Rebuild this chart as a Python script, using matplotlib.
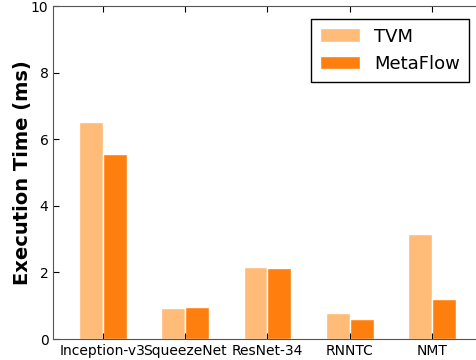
import matplotlib
matplotlib.use("Agg")
import matplotlib.pyplot as plt
import numpy as np

categories = ["Inception-v3", "SqueezeNet", "ResNet-34", "RNNTC", "NMT"]
tvm = [6.52, 0.93, 2.15, 0.79, 3.16]
metaflow = [5.56, 0.96, 2.12, 0.59, 1.20]

fig = plt.figure(figsize=(4.77, 3.6), dpi=100)
ax = fig.add_axes([0.1117, 0.0583, 0.898, 0.925])
x = np.arange(len(categories))
w = 0.29
ax.bar(x - w/2, tvm, w, color="#ffbb78", edgecolor="white", linewidth=1, label="TVM")
ax.bar(x + w/2, metaflow, w, color="#ff7f0e", edgecolor="white", linewidth=1, label="MetaFlow")
ax.set_xlim(-0.6, 4.6)
ax.set_ylim(0, 10)
ax.set_xticks(x)
ax.set_xticklabels(categories, fontsize=10)
ax.set_yticks([0, 2, 4, 6, 8, 10])
ax.tick_params(axis="y", labelsize=10, direction="in", length=4, right=False)
ax.tick_params(axis="x", direction="in", length=4, top=True)
for s in ax.spines.values():
    s.set_color("#555555")
ax.set_ylabel("Execution Time (ms)", fontsize=14, fontweight="bold", labelpad=-1)
leg = ax.legend(loc="upper right", fontsize=13, fancybox=False, framealpha=1, edgecolor="black",
                handlelength=2.2, handleheight=0.8, borderpad=0.5, borderaxespad=0.7)
fig.savefig("out.png", dpi=100)
